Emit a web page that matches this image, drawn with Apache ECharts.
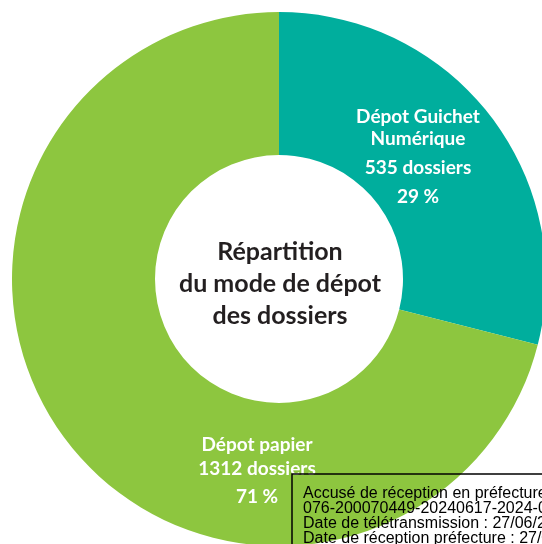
<!DOCTYPE html>
<html lang="fr" style="height: 100%">
<head>
  <meta charset="UTF-8">
</head>
<body style="height: 100%; margin: 0">
  <div id="container" style="width: 542px; height: 544px"></div>
  <script type="text/javascript" src="https://fastly.jsdelivr.net/npm/echarts@6.0.0/dist/echarts.min.js"></script>
  <script type="text/javascript">
    // data
    var categories = ['Dépot Guichet\nNumérique', 'Dépot papier'];
    var dossiers = [535, 1312];
    var colors = ['#00ae9d', '#8dc63f'];
    var centerTitle = 'Répartition\ndu mode de dépot\ndes dossiers';
    var stampLines = [
      'Accusé de réception en préfecture',
      '076-200070449-20240617-2024-0',
      'Date de télétransmission : 27/06/2024',
      'Date de réception préfecture : 27/06/2024'
    ];

    // label anchors (top centre of each label block)
    var labelPos = [[418, 106], [257, 434]];

    var dom = document.getElementById('container');
    var myChart = echarts.init(dom, null, { renderer: 'canvas' });

    var labelFont = { color: '#fff', fontFamily: 'Lato', fontWeight: 'bold', fontSize: 19 };
    function rs(lh) {
      return Object.assign({ lineHeight: lh }, labelFont);
    }

    var option = {
      animation: false,
      series: [
        {
          type: 'pie',
          center: [279, 279],
          radius: [124, 267],
          startAngle: 90,
          clockwise: true,
          silent: true,
          data: categories.map(function (c, i) {
            return { name: c, value: dossiers[i], itemStyle: { color: colors[i] } };
          }),
          label: Object.assign({
            show: true,
            position: 'inside',
            formatter: function (p) {
              var pct = Math.round(p.percent) + ' %';
              var cnt = p.value + ' dossiers';
              if (p.dataIndex === 0) {
                return '{t|' + p.name + '}\n{c1|' + cnt + '}\n{p1|' + pct + '}';
              }
              return '{t|' + p.name + '}\n{c2|' + cnt + '}\n{p2|' + pct + '}';
            },
            rich: { t: rs(22), c1: rs(36), p1: rs(22), c2: rs(26), p2: rs(29) }
          }, labelFont),
          labelLine: { show: false },
          labelLayout: function (params) {
            var pos = labelPos[params.dataIndex];
            return { x: pos[0], y: pos[1], align: 'center', verticalAlign: 'top' };
          },
          emphasis: { disabled: true }
        }
      ],
      graphic: [
        {
          type: 'text',
          z: 100,
          x: 280,
          y: 236,
          style: {
            text: centerTitle,
            align: 'center',
            fill: '#231f20',
            font: 'bold 25px Lato',
            lineHeight: 32
          }
        },
        {
          type: 'rect',
          z: 100,
          shape: { x: 292, y: 474, width: 300, height: 120 },
          style: { fill: 'none', stroke: '#000', lineWidth: 1.5 }
        },
        {
          type: 'text',
          z: 100,
          x: 303,
          y: 486,
          style: {
            text: stampLines.join('\n'),
            fill: '#000',
            font: '16px "Liberation Sans"',
            lineHeight: 15
          }
        }
      ]
    };

    myChart.setOption(option);
    window.addEventListener('resize', myChart.resize);
  </script>
</body>
</html>
